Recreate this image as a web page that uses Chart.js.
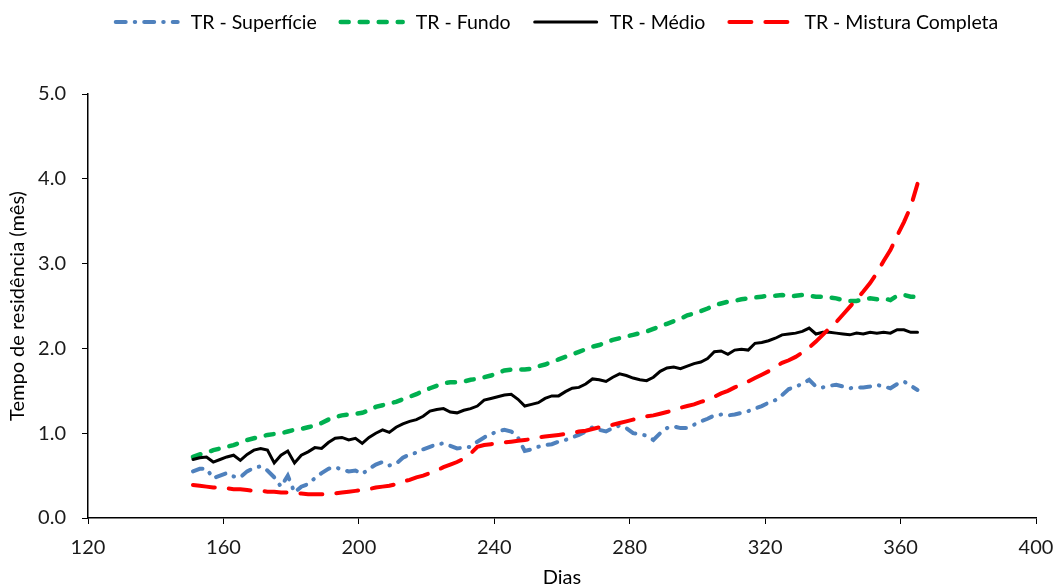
<!DOCTYPE html>
<html><head><meta charset="utf-8">
<script src="https://cdn.jsdelivr.net/npm/chart.js@4.4.1/dist/chart.umd.min.js"></script>
<style>html,body{margin:0;padding:0;background:#fff}#wrap{width:1056px;height:587px}</style>
</head><body><div id="wrap"><canvas id="c" width="1056" height="587"></canvas></div>
<script>
const days = [151,153,155,157,159,161,163,165,167,169,
171,173,175,177,179,181,183,185,187,189,
191,193,195,197,199,201,203,205,207,209,
211,213,215,217,219,221,223,225,227,229,
231,233,235,237,239,241,243,245,247,249,
251,253,255,257,259,261,263,265,267,269,
271,273,275,277,279,281,283,285,287,289,
291,293,295,297,299,301,303,305,307,309,
311,313,315,317,319,321,323,325,327,329,
331,333,335,337,339,341,343,345,347,349,
351,353,355,357,359,361,363,365];

const superficie = [0.55,0.58,0.58,0.47,0.50,0.53,0.49,0.48,0.55,0.59,
0.61,0.56,0.48,0.37,0.50,0.30,0.37,0.40,0.47,0.53,
0.58,0.60,0.57,0.55,0.56,0.52,0.58,0.63,0.66,0.62,
0.64,0.71,0.75,0.77,0.81,0.84,0.87,0.88,0.85,0.82,
0.83,0.84,0.90,0.95,0.99,1.02,1.04,1.02,0.95,0.79,
0.81,0.84,0.86,0.87,0.90,0.92,0.95,0.98,1.02,1.07,
1.04,1.02,1.06,1.09,1.06,1.00,0.99,0.97,0.92,1.00,
1.06,1.08,1.06,1.06,1.10,1.14,1.17,1.21,1.22,1.21,
1.22,1.24,1.26,1.29,1.32,1.36,1.39,1.45,1.52,1.55,
1.58,1.63,1.55,1.54,1.56,1.57,1.55,1.53,1.54,1.54,
1.55,1.57,1.55,1.53,1.58,1.61,1.56,1.51];

const fundo = [0.72,0.75,0.77,0.80,0.82,0.84,0.86,0.89,0.92,0.94,
0.96,0.98,0.99,1.00,1.02,1.04,1.05,1.07,1.09,1.12,
1.16,1.19,1.21,1.22,1.23,1.24,1.27,1.31,1.33,1.35,
1.37,1.40,1.43,1.46,1.50,1.53,1.56,1.59,1.60,1.60,
1.61,1.63,1.64,1.66,1.68,1.71,1.74,1.75,1.75,1.75,
1.76,1.79,1.81,1.84,1.87,1.90,1.93,1.96,1.99,2.02,
2.04,2.07,2.10,2.12,2.14,2.16,2.18,2.20,2.23,2.26,
2.29,2.32,2.35,2.39,2.41,2.44,2.47,2.51,2.53,2.55,
2.56,2.58,2.59,2.60,2.61,2.62,2.62,2.63,2.61,2.62,
2.63,2.62,2.61,2.61,2.60,2.59,2.57,2.56,2.56,2.58,
2.59,2.58,2.59,2.57,2.62,2.63,2.61,2.61];

const medio = [0.69,0.71,0.72,0.66,0.69,0.72,0.74,0.68,0.75,0.80,
0.82,0.80,0.65,0.74,0.79,0.65,0.74,0.78,0.83,0.82,
0.89,0.94,0.95,0.92,0.94,0.88,0.95,1.00,1.04,1.01,
1.07,1.11,1.14,1.16,1.20,1.26,1.28,1.29,1.25,1.24,
1.27,1.29,1.32,1.39,1.41,1.43,1.45,1.46,1.40,1.32,
1.34,1.36,1.41,1.44,1.44,1.49,1.53,1.54,1.58,1.64,
1.63,1.61,1.66,1.70,1.68,1.65,1.63,1.62,1.66,1.73,
1.77,1.78,1.76,1.79,1.82,1.84,1.88,1.96,1.97,1.93,
1.98,1.99,1.98,2.06,2.07,2.09,2.12,2.16,2.17,2.18,
2.20,2.24,2.17,2.19,2.19,2.18,2.17,2.16,2.18,2.17,
2.19,2.18,2.19,2.18,2.22,2.22,2.19,2.19];

const mistura = [0.39,0.38,0.37,0.36,0.36,0.35,0.34,0.34,0.33,0.32,
0.32,0.31,0.31,0.30,0.30,0.29,0.29,0.28,0.28,0.28,
0.28,0.29,0.30,0.31,0.32,0.33,0.34,0.36,0.37,0.38,
0.40,0.43,0.45,0.48,0.50,0.53,0.56,0.60,0.63,0.66,
0.70,0.76,0.84,0.86,0.87,0.88,0.89,0.90,0.91,0.92,
0.93,0.95,0.96,0.97,0.98,0.99,1.00,1.02,1.03,1.05,
1.07,1.08,1.10,1.12,1.14,1.16,1.18,1.20,1.21,1.23,
1.25,1.27,1.30,1.32,1.34,1.37,1.39,1.43,1.47,1.50,
1.54,1.57,1.61,1.65,1.69,1.73,1.78,1.83,1.86,1.90,
1.95,2.01,2.08,2.16,2.24,2.31,2.40,2.49,2.58,2.67,
2.77,2.89,3.03,3.16,3.33,3.49,3.67,3.94];

const seriesNames = ['TR - Superfície','TR - Fundo','TR - Médio','TR - Mistura Completa'];
const xTicks = [120,160,200,240,280,320,360,400];
const yTicks = [0,1,2,3,4,5];
const xTitle = 'Dias';
const yTitle = 'Tempo de residência (mês)';

const FONT = 'Lato';
const pts = arr => days.map((d,i)=>({x:d, y:arr[i]}));

const legendPlugin = {
  id: 'customLegend',
  afterDraw(chart) {
    const ctx = chart.ctx;
    ctx.save();
    ctx.font = '19.5px ' + FONT;
    const sample = 66, gapText = 11, gapItem = 22, y = 22;
    const items = chart.data.datasets.map(ds => ({ds, w: ctx.measureText(ds.label).width}));
    const total = items.reduce((s,it)=> s + sample + gapText + it.w, 0) + gapItem*(items.length-1);
    let x = 556 - total/2;
    items.forEach(it => {
      const ds = it.ds;
      ctx.strokeStyle = ds.borderColor;
      ctx.lineWidth = ds.borderWidth;
      ctx.setLineDash(ds.borderDash || []);
      ctx.lineCap = ds.borderCapStyle || 'butt';
      ctx.beginPath(); ctx.moveTo(x + 2, y); ctx.lineTo(x + sample - 2, y); ctx.stroke();
      ctx.setLineDash([]);
      ctx.fillStyle = '#000'; ctx.textBaseline = 'middle'; ctx.textAlign = 'left';
      ctx.fillText(ds.label, x + sample + gapText, y + 1);
      x += sample + gapText + it.w + gapItem;
    });
    ctx.restore();
  }
};

new Chart(document.getElementById('c'), {
  type: 'line',
  data: {
    datasets: [
      {label: seriesNames[0], data: pts(superficie), borderColor: '#4F81BD', borderWidth: 4, borderDash: [10,9,0.5,9], borderCapStyle: 'round', order: 3},
      {label: seriesNames[1], data: pts(fundo), borderColor: '#00B050', borderWidth: 4.5, borderDash: [8,11], borderCapStyle: 'round', order: 2},
      {label: seriesNames[2], data: pts(medio), borderColor: '#000000', borderWidth: 3, borderDash: [], borderCapStyle: 'round', order: 1},
      {label: seriesNames[3], data: pts(mistura), borderColor: '#FF0000', borderWidth: 4, borderDash: [22,14], borderCapStyle: 'round', order: 0}
    ]
  },
  options: {
    responsive: false,
    animation: false,
    devicePixelRatio: 1,
    layout: {padding: {top: 94, right: 20, left: 0, bottom: 0}},
    elements: {point: {radius: 0, hoverRadius: 0}, line: {tension: 0, fill: false}},
    plugins: {legend: {display: false}, tooltip: {enabled: false}},
    scales: {
      x: {
        type: 'linear', min: 120, max: 400,
        afterBuildTicks: s => { s.ticks = xTicks.map(v => ({value: v})); },
        afterFit: s => { s.height = 69; s.paddingLeft = 0; s.paddingRight = 0; },
        ticks: {font: {family: FONT, size: 20}, color: '#1a1a1a', padding: 12, maxRotation: 0, autoSkip: false},
        grid: {drawOnChartArea: false, drawTicks: true, tickLength: 6, color: '#000', lineWidth: 1},
        border: {display: true, color: '#000', width: 1.5},
        title: {display: true, text: xTitle, font: {family: FONT, size: 20}, color: '#000', padding: {top: 0, bottom: -3}}
      },
      y: {
        min: 0, max: 5,
        afterBuildTicks: s => { s.ticks = yTicks.map(v => ({value: v})); },
        afterFit: s => { s.width = 88; s.paddingTop = 0; s.paddingBottom = 0; },
        ticks: {font: {family: FONT, size: 20}, color: '#1a1a1a', padding: 16, callback: v => Number(v).toFixed(1)},
        grid: {drawOnChartArea: false, drawTicks: true, tickLength: 6, color: '#000', lineWidth: 1},
        border: {display: true, color: '#000', width: 1.5},
        title: {display: true, text: yTitle, font: {family: FONT, size: 20}, color: '#000', padding: {top: 6, bottom: 0}}
      }
    }
  },
  plugins: [legendPlugin]
});
</script>
</body></html>
